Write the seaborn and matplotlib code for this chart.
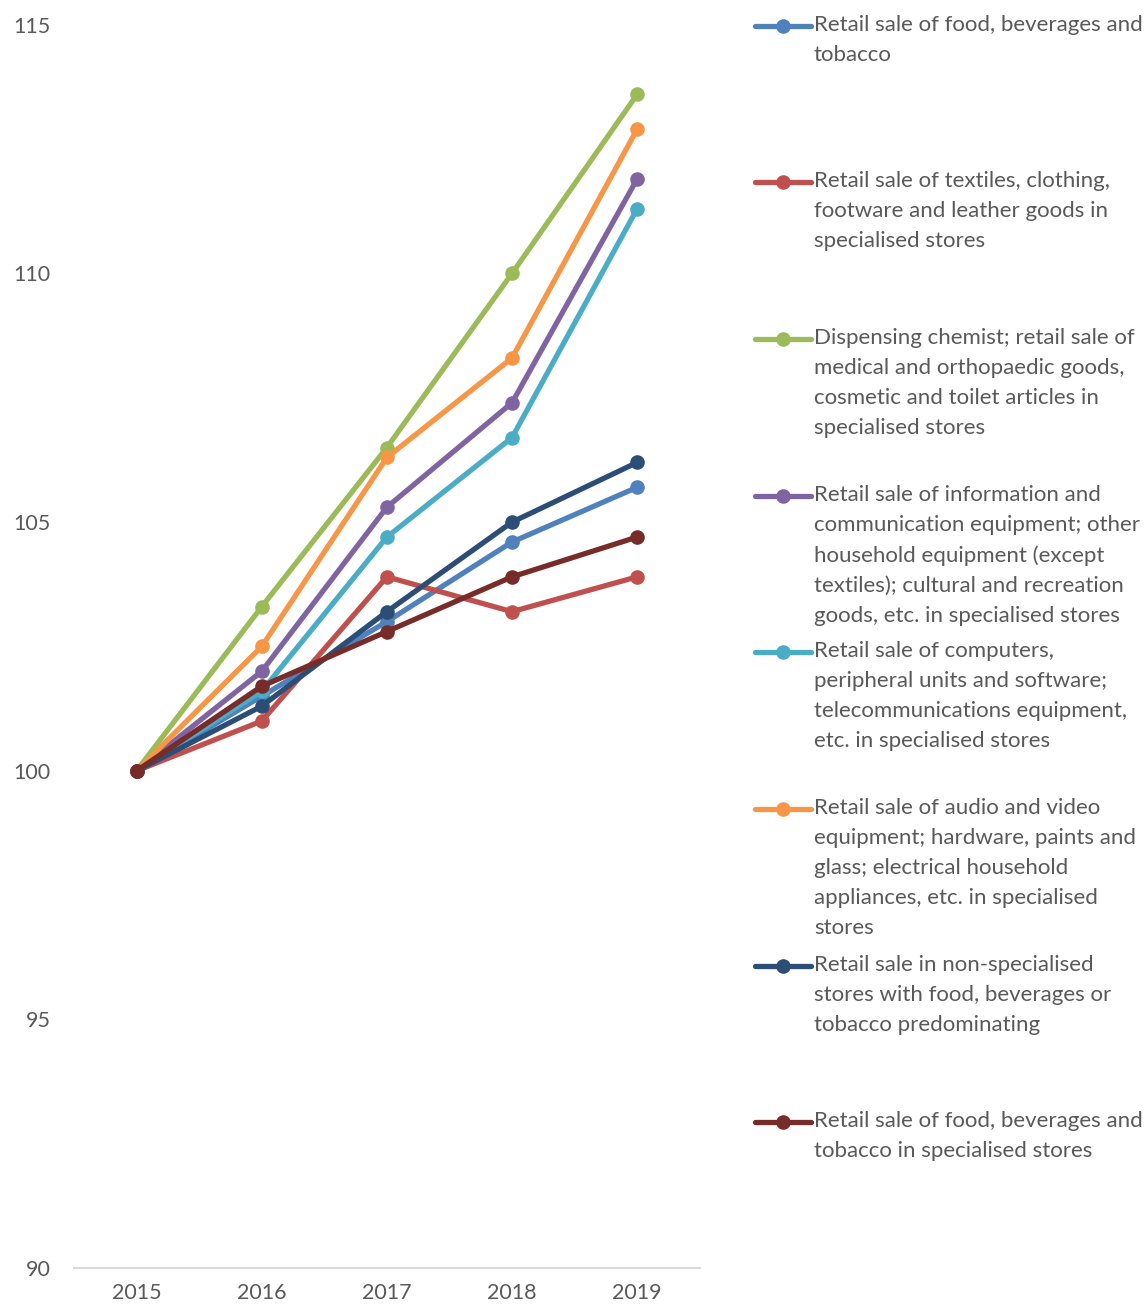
import matplotlib
matplotlib.use("Agg")
import matplotlib.pyplot as plt
import seaborn as sns
import pandas as pd
from matplotlib.lines import Line2D

years = ["2015", "2016", "2017", "2018", "2019"]

series_names = [
    "Retail sale of food, beverages and\ntobacco",
    "Retail sale of textiles, clothing,\nfootware and leather goods in\nspecialised stores",
    "Dispensing chemist; retail sale of\nmedical and orthopaedic goods,\ncosmetic and toilet articles in\nspecialised stores",
    "Retail sale of information and\ncommunication equipment; other\nhousehold equipment (except\ntextiles); cultural and recreation\ngoods, etc. in specialised stores",
    "Retail sale of computers,\nperipheral units and software;\ntelecommunications equipment,\netc. in specialised stores",
    "Retail sale of audio and video\nequipment; hardware, paints and\nglass; electrical household\nappliances, etc. in specialised\nstores",
    "Retail sale in non-specialised\nstores with food, beverages or\ntobacco predominating",
    "Retail sale of food, beverages and\ntobacco in specialised stores",
]

food_bev_tob = [100, 101.5, 103.0, 104.6, 105.7]
textiles = [100, 101.0, 103.9, 103.2, 103.9]
chemist = [100, 103.3, 106.5, 110.0, 113.6]
info_comm = [100, 102.0, 105.3, 107.4, 111.9]
computers = [100, 101.6, 104.7, 106.7, 111.3]
audio_video = [100, 102.5, 106.3, 108.3, 112.9]
non_specialised = [100, 101.3, 103.2, 105.0, 106.2]
food_specialised = [100, 101.7, 102.8, 103.9, 104.7]

all_values = [food_bev_tob, textiles, chemist, info_comm, computers,
              audio_video, non_specialised, food_specialised]

colors = ["#4F81BD", "#C0504D", "#9BBB59", "#8064A2", "#4BACC6",
          "#F79646", "#2C4D75", "#772C2A"]

rows = []
for name, vals in zip(series_names, all_values):
    for i, (y, v) in enumerate(zip(years, vals)):
        rows.append({"series": name, "x": i, "year": y, "value": v})
df = pd.DataFrame(rows)

sns.set_theme(style="white")
plt.rcParams["font.family"] = ["Lato", "DejaVu Sans"]

fig = plt.figure(figsize=(11.48, 13.06), dpi=100)
ax = fig.add_axes([0.0645, 0.029, 0.545, 0.952])

sns.lineplot(data=df, x="x", y="value", hue="series", hue_order=series_names,
             palette=colors, marker="o", markersize=10.5, markeredgewidth=0,
             linewidth=3.8, legend=False, ax=ax, sort=False)

ax.set_xlim(-0.5, 4.5)
ax.set_ylim(90, 115)
ax.set_xticks(range(len(years)))
ax.set_xticklabels(years)
ax.set_yticks([90, 95, 100, 105, 110, 115])
ax.set_xlabel("")
ax.set_ylabel("")
for s in ["top", "right", "left"]:
    ax.spines[s].set_visible(False)
ax.spines["bottom"].set_color("#D9D9D9")
ax.spines["bottom"].set_linewidth(1.5)
ax.tick_params(axis="both", length=0, labelsize=15.5, colors="#595959")
ax.tick_params(axis="y", pad=17)
ax.tick_params(axis="x", pad=11)
ax.grid(False)

# manual legend on the right
H = 1306.0
W = 1148.0
legend_y = [26, 182, 339, 496, 652, 809, 966, 1122]
for name, col, ypx in zip(series_names, colors, legend_y):
    yf = 1 - ypx / H
    fig.add_artist(Line2D([755 / W, 811 / W], [yf, yf], color=col, lw=3.8,
                          transform=fig.transFigure))
    fig.add_artist(Line2D([783 / W], [yf], color=col, marker="o", markersize=10.5,
                          markeredgewidth=0, transform=fig.transFigure))
    fig.text(814 / W, 1 - (ypx - 11) / H, name, ha="left", va="top",
             fontsize=16, color="#595959", linespacing=1.62)

fig.savefig("out.png", dpi=100)
